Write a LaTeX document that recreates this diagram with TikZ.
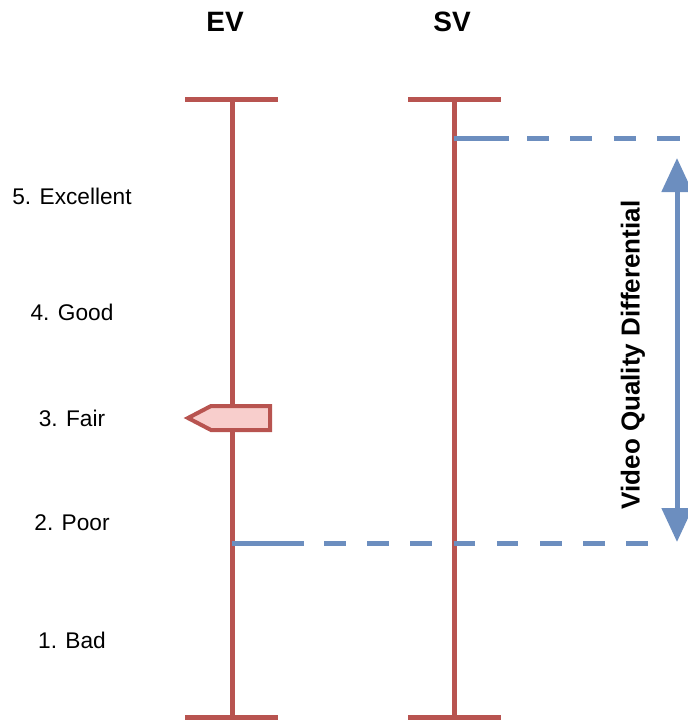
\documentclass[tikz,border=0pt]{standalone}
\usepackage{fontspec}
\setmainfont{Liberation Sans}
\usetikzlibrary{arrows.meta}
\definecolor{scred}{HTML}{B85450}
\definecolor{scblue}{HTML}{6C8EBF}
\definecolor{scpink}{HTML}{F8CECC}
\begin{document}
\begin{tikzpicture}[x=0.75pt,y=-0.75pt,
  axisline/.style={draw=scred, line width=3.75pt},
  diffline/.style={draw=scblue, line width=3.75pt},
  lbl/.style={font=\fontsize{17}{20}\selectfont, inner sep=0pt, anchor=center},
  headlbl/.style={font=\bfseries\fontsize{21}{25}\selectfont, inner sep=0pt, anchor=center},
  pointer/.style={draw=scred, fill=scpink, line width=3pt, line join=miter},
  bigtip/.tip={Triangle[width=22.5pt,length=25.5pt]}]
\useasboundingbox (0,0) rectangle (687,722);
% coordinates
\coordinate (evtop) at (232,99);
\coordinate (evbot) at (232,717);
\coordinate (evtopL) at (185,99);
\coordinate (evtopR) at (278,99);
\coordinate (evbotL) at (185,717);
\coordinate (evbotR) at (278,717);
\coordinate (svtop) at (454,99);
\coordinate (svbot) at (454,717);
\coordinate (svtopL) at (408,99);
\coordinate (svtopR) at (501,99);
\coordinate (svbotL) at (408,717);
\coordinate (svbotR) at (501,717);
\coordinate (hiS) at (454,138);
\coordinate (hiE) at (680,138);
\coordinate (loS) at (232,543);
\coordinate (loE) at (648,543);
\coordinate (arT) at (677,158);
\coordinate (arB) at (677,542);
% headings
\node[headlbl] (ev) at (225,22) {EV};
\node[headlbl] (sv) at (452,22) {SV};
% scale labels
\node[lbl] (l5) at (72,196) {5. Excellent};
\node[lbl] (l4) at (72,312) {4. Good};
\node[lbl] (l3) at (72,418) {3. Fair};
\node[lbl] (l2) at (72,523) {2. Poor};
\node[lbl] (l1) at (72,640) {1. Bad};
% axes
\draw[axisline] (evtop) -- (evbot);
\draw[axisline] (evtopL) -- (evtopR);
\draw[axisline] (evbotL) -- (evbotR);
\draw[axisline] (svtop) -- (svbot);
\draw[axisline] (svtopL) -- (svtopR);
\draw[axisline] (svbotL) -- (svbotR);
% differential lines
\draw[diffline, dash pattern=on 41.25pt off 13.5pt on 16.5pt off 16pt on 16.5pt off 16pt on 16.5pt off 16pt] (hiS) -- (hiE);
\draw[diffline, dash pattern=on 54pt off 15pt on 16.2pt off 16.2pt on 16.2pt off 16.2pt on 16.2pt off 16.2pt on 16.2pt off 16.2pt on 16.2pt off 16.2pt on 16.2pt off 16.2pt on 16.2pt off 16.2pt] (loS) -- (loE);
\draw[diffline, bigtip-bigtip] (arT) -- (arB);
\node[font=\bfseries\fontsize{19.5}{23}\selectfont, rotate=90, inner sep=0pt] (vqd) at (633,355) {Video Quality Differential};
% pointer
\draw[pointer] (188,418) -- (211,406) -- (270,406) -- (270,430) -- (211,430) -- cycle;
\end{tikzpicture}
\end{document}
